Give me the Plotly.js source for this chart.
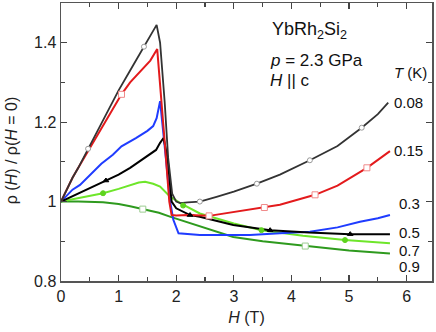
<!DOCTYPE html>
<html>
<head>
<meta charset="utf-8">
<script src="https://cdn.plot.ly/plotly-3.0.1.min.js"></script>
<style>
  html, body { margin: 0; padding: 0; background: #fff; }
  #chart { width: 436px; height: 332px; }
</style>
</head>
<body>
<div id="chart"></div>
<script>
// field (T) and normalised resistivity
const h008 = [0, 0.1, 0.2, 0.3, 0.47, 0.6, 0.8, 1.0, 1.2, 1.44, 1.55, 1.66, 1.72, 1.8, 1.86, 1.93, 2.0, 2.07, 2.2, 2.41, 2.7, 3.0, 3.4, 3.8, 4.32, 4.8, 5.22, 5.5, 5.68];
const r008 = [1.0, 1.03, 1.06, 1.085, 1.133, 1.17, 1.225, 1.28, 1.33, 1.39, 1.415, 1.445, 1.40, 1.25, 1.11, 1.02, 1.0, 0.996, 0.998, 1.0, 1.012, 1.025, 1.045, 1.068, 1.104, 1.14, 1.186, 1.22, 1.249];

const h015 = [0, 0.1, 0.2, 0.3, 0.5, 0.7, 0.9, 1.05, 1.2, 1.4, 1.55, 1.67, 1.72, 1.8, 1.88, 1.92, 2.0, 2.2, 2.57, 3.0, 3.53, 3.8, 4.41, 4.8, 5.31, 5.5, 5.71];
const r015 = [1.0, 1.03, 1.06, 1.085, 1.135, 1.185, 1.235, 1.27, 1.30, 1.33, 1.355, 1.384, 1.30, 1.15, 1.0, 0.966, 0.965, 0.966, 0.964, 0.974, 0.985, 0.992, 1.017, 1.04, 1.085, 1.105, 1.127];

const h03 = [0, 0.1, 0.2, 0.33, 0.47, 0.7, 0.9, 1.05, 1.3, 1.5, 1.6, 1.66, 1.72, 1.76, 1.82, 1.89, 1.95, 2.04, 2.2, 2.41, 3.0, 3.28, 3.8, 4.32, 4.8, 5.19, 5.5, 5.71];
const r03 = [1.0, 1.015, 1.03, 1.042, 1.063, 1.095, 1.118, 1.139, 1.16, 1.178, 1.19, 1.21, 1.253, 1.20, 1.11, 1.004, 0.954, 0.92, 0.918, 0.916, 0.916, 0.916, 0.92, 0.924, 0.935, 0.949, 0.958, 0.966];

const h05 = [0, 0.2, 0.4, 0.6, 0.78, 1.0, 1.2, 1.4, 1.52, 1.65, 1.72, 1.78, 1.85, 1.92, 2.0, 2.24, 2.41, 2.99, 3.63, 4.3, 5.02, 5.71];
const r05 = [1.0, 1.014, 1.028, 1.041, 1.053, 1.068, 1.085, 1.105, 1.118, 1.13, 1.148, 1.16, 1.11, 1.0, 0.983, 0.966, 0.962, 0.941, 0.928, 0.922, 0.918, 0.918];

const h07 = [0, 0.2, 0.4, 0.73, 1.0, 1.2, 1.35, 1.46, 1.6, 1.72, 1.89, 2.07, 2.41, 3.0, 3.48, 4.2, 4.93, 5.71];
const r07 = [1.0, 1.006, 1.012, 1.021, 1.032, 1.042, 1.048, 1.05, 1.045, 1.038, 1.013, 0.996, 0.97, 0.945, 0.928, 0.914, 0.903, 0.895];

const h09 = [0, 0.3, 0.73, 1.0, 1.2, 1.42, 1.7, 1.89, 2.41, 2.99, 3.5, 4.24, 5.0, 5.71];
const r09 = [1.0, 1.0, 0.998, 0.994, 0.988, 0.981, 0.972, 0.962, 0.937, 0.911, 0.9, 0.888, 0.877, 0.869];

// symbols sitting on the curves
const mk008H = [0.47, 1.44, 2.41, 3.40, 4.32, 5.22];
const mk008R = [1.133, 1.39, 1.0, 1.045, 1.104, 1.186];
const mk015H = [1.05, 2.57, 3.53, 4.41, 5.31];
const mk015R = [1.27, 0.964, 0.985, 1.017, 1.085];
const mk05H = [0.78, 2.24, 3.63, 5.02];
const mk05R = [1.053, 0.966, 0.928, 0.918];
const mk07H = [0.73, 2.12, 3.48, 4.93];
const mk07R = [1.021, 0.99, 0.928, 0.903];
const mk09H = [1.42, 4.24];
const mk09R = [0.981, 0.888];

// temperature labels at the curve ends
const tempLabels = ['0.08', '0.15', '0.3', '0.5', '0.7', '0.9'];
const labelH = [5.75, 5.75, 5.83, 5.83, 5.83, 5.83];
const labelR = [1.25, 1.129, 0.994, 0.921, 0.876, 0.837];

const FONT = 'Liberation Sans, Arial, Helvetica, sans-serif';

function curve(x, y, color, width) {
  return { type: 'scatter', mode: 'lines', x, y, line: { color, width }, hoverinfo: 'skip' };
}
function marks(x, y, symbol, fill, edge, size) {
  return {
    type: 'scatter', mode: 'markers', x, y, hoverinfo: 'skip',
    marker: { symbol, size, color: fill, line: { color: edge, width: 1 } },
  };
}

const traces = [
  curve(h09, r09, '#2e9a1e', 2),
  curve(h07, r07, '#6ee62a', 2),
  curve(h03, r03, '#1f3cff', 2),
  curve(h05, r05, '#000000', 2),
  curve(h015, r015, '#e31a1c', 2),
  curve(h008, r008, '#333333', 1.8),
  marks(mk09H, mk09R, 'square', '#ffffff', '#9ccc90', 6),
  marks(mk07H, mk07R, 'circle', '#5ed41e', '#5ed41e', 5),
  marks(mk05H, mk05R, 'triangle-up', '#000000', '#000000', 5),
  marks(mk015H, mk015R, 'square', '#ffffff', '#f08a8a', 6),
  marks(mk008H, mk008R, 'circle', '#ffffff', '#999999', 5),
];

function note(x, y, text, size) {
  return {
    x, y, xref: 'x', yref: 'y', text,
    xanchor: 'left', yanchor: 'middle', showarrow: false,
    font: { family: FONT, size, color: '#111' },
  };
}

const annotations = tempLabels.map((t, i) => note(labelH[i], labelR[i], t, 15));
annotations.push(
  note(5.75, 1.326, '<i>T</i> (K)', 15),
  note(3.63, 1.432, 'YbRh<sub>2</sub>Si<sub>2</sub>', 18),
  note(3.60, 1.356, '<i>p</i> = 2.3 GPa', 17),
  note(3.60, 1.305, '<i>H</i> || c', 17),
  // y axis title, placed by hand so it sits at the far left
  {
    x: -0.135, y: 0.47, xref: 'paper', yref: 'paper', textangle: -90,
    xanchor: 'center', yanchor: 'middle', showarrow: false,
    text: 'ρ (<i>H</i>) / ρ(<i>H</i> = 0)',
    font: { family: FONT, size: 16, color: '#222' },
  },
);

const axisBase = {
  showgrid: false, zeroline: false,
  showline: true, linecolor: '#555', linewidth: 1.5, mirror: 'allticks',
  ticks: 'inside', ticklen: 6, tickwidth: 1.2, tickcolor: '#444',
  tickfont: { family: FONT, size: 16, color: '#222' },
};

const layout = {
  width: 436, height: 332,
  paper_bgcolor: '#fff', plot_bgcolor: '#fff',
  margin: { t: 3, r: 4, b: 51, l: 61 },
  showlegend: false,
  font: { family: FONT, color: '#222' },
  xaxis: {
    ...axisBase, range: [0, 6.44], tick0: 0, dtick: 1,
    minor: { dtick: 0.5, ticks: 'inside', ticklen: 4, tickcolor: '#444' },
    title: { text: '<i>H</i> (T)', font: { family: FONT, size: 16, color: '#222' }, standoff: 8 },
  },
  yaxis: {
    ...axisBase, range: [0.8, 1.5], tick0: 0.8, dtick: 0.2,
    minor: { dtick: 0.1, ticks: 'inside', ticklen: 4, tickcolor: '#444' },
  },
  annotations,
};

Plotly.newPlot('chart', traces, layout, { displayModeBar: false, staticPlot: true });
</script>
</body>
</html>
